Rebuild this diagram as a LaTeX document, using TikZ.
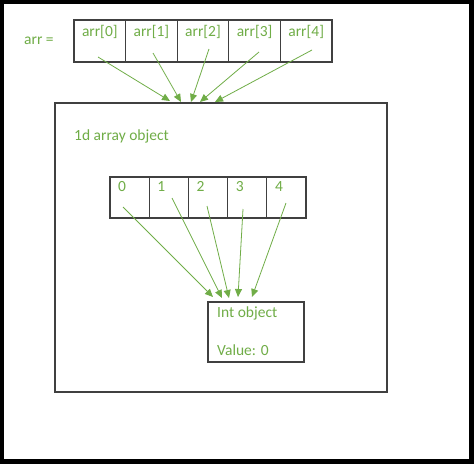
\documentclass[tikz,border=0pt]{standalone}
\usepackage{fontspec}
\setmainfont{Carlito}
\usetikzlibrary{arrows.meta,positioning}
\definecolor{txtgreen}{RGB}{112,173,71}
\definecolor{linegray}{RGB}{64,64,64}
\tikzset{
  cell/.style={draw=linegray, line width=1.1pt, minimum width=51.6pt, minimum height=42pt, inner sep=0pt},
  icell/.style={draw=linegray, line width=1.1pt, minimum width=39.2pt, minimum height=41pt, inner sep=0pt},
  lbl/.style={text=txtgreen, font=\fontsize{15.5}{18}\selectfont, inner sep=0pt},
  ptr/.style={draw=txtgreen, line width=0.8pt, -{Triangle[length=8pt,width=7pt]}}
}
\begin{document}
\begin{tikzpicture}[x=1pt,y=-1pt]
\fill[black] (0,0) rectangle (474,464); % black frame
\fill[white] (4,4) rectangle (469,459); % page
\node[lbl, anchor=base west] (arrname) at (24,44) {arr =};
\foreach \i in {0,...,4}{
  \node[cell] (a\i) at ({74+51.6*(\i+0.5)},41) {}; % top cells
  \node[lbl, anchor=base] (at\i) at ({74+51.6*(\i+0.5)},36.5) {arr[\i]};
}
\node[draw=linegray, line width=1.1pt, minimum width=332pt, minimum height=289pt] (obj) at (221,247.5) {}; % array object box
\node[lbl, anchor=base west] (objname) at (74,140) {1d array object};
\foreach \i in {0,...,4}{
  \node[icell] (b\i) at ({110+39.2*(\i+0.5)},197.5) {}; % inner cells
  \node[lbl, anchor=base west] (bt\i) at ({118+39.2*\i},191.5) {\i};
}
\node[draw=linegray, line width=1.1pt, minimum width=96pt, minimum height=60pt] (int) at (256,332) {}; % int object box
\node[lbl, anchor=base west] (intname) at (217,317.5) {Int object};
\node[lbl, anchor=base west] (intval) at (217,355) {Value: 0};
% pointers from arr cells to the array object
\foreach \i/\sx/\sy/\ex/\ey in {0/98/57/170/101, 1/153/53/181/102, 2/209/49/191/102, 3/259/52/200/102, 4/312/50/215/102}{
  \coordinate (s\i) at (\sx,\sy);
  \coordinate (e\i) at (\ex,\ey);
  \draw[ptr] (s\i) -- (e\i);
}
% pointers from the elements to the int object
\foreach \i/\sx/\sy/\ex/\ey in {0/123/207/213/297, 1/172/198/222/298, 2/207/206/229/298, 3/243/209/238/297, 4/286/203/252/297}{
  \coordinate (u\i) at (\sx,\sy);
  \coordinate (v\i) at (\ex,\ey);
  \draw[ptr] (u\i) -- (v\i);
}
\end{tikzpicture}
\end{document}
